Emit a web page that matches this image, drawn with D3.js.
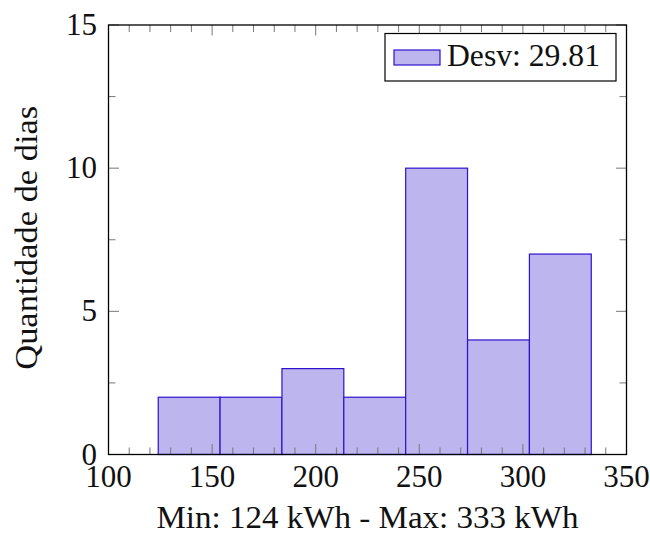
<!DOCTYPE html>
<html>
<head>
<meta charset="utf-8">
<script src="https://cdn.jsdelivr.net/npm/d3@7"></script>
<style>
  body { margin: 0; background: #fff; }
  svg text { font-family: "Liberation Serif", "DejaVu Serif", serif; fill: #111; }
</style>
</head>
<body>
<svg id="chart" width="650" height="534"></svg>
<script>
// histogram data (bins from min to max, 7 bins)
const dataMin = 124;
const dataMax = 333;
const binCounts = [2, 2, 3, 2, 10, 4, 7];
const xTicks = [100, 150, 200, 250, 300, 350];
const yTicks = [0, 5, 10, 15];
const legendLabel = "Desv: 29.81";
const xLabel = "Min: 124 kWh - Max: 333 kWh";
const yLabel = "Quantidade de dias";

const svg = d3.select("#chart");
const mLeft = 108.5, mRight = 626.5, mTop = 25, mBottom = 454.5;
const fontSize = 31;

const x = d3.scaleLinear().domain([100, 350]).range([mLeft, mRight]);
const y = d3.scaleLinear().domain([0, 15]).range([mBottom, mTop]);

const binW = (dataMax - dataMin) / binCounts.length;
const bins = binCounts.map((c, i) => ({
  x0: dataMin + i * binW,
  x1: dataMin + (i + 1) * binW,
  count: c
}));

const fillCol = "#bdb5ed";
const strokeCol = "#2e12cf";

// bars
svg.append("g")
  .selectAll("rect")
  .data(bins)
  .enter().append("rect")
  .attr("x", d => x(d.x0))
  .attr("y", d => y(d.count))
  .attr("width", d => x(d.x1) - x(d.x0))
  .attr("height", d => y(0) - y(d.count))
  .attr("fill", fillCol)
  .attr("stroke", strokeCol)
  .attr("stroke-width", 1.2);

// ticks (drawn inward on all four sides, like pgfplots)
const tickG = svg.append("g").attr("stroke", "#777").attr("stroke-width", 1);
const xMinor = d3.range(100, 351, 10).filter(v => v % 50 !== 0);
const yMinor = [2.5, 7.5, 12.5];
function xTick(v, len) {
  tickG.append("line").attr("x1", x(v)).attr("x2", x(v)).attr("y1", mBottom).attr("y2", mBottom - len);
  tickG.append("line").attr("x1", x(v)).attr("x2", x(v)).attr("y1", mTop).attr("y2", mTop + len);
}
function yTick(v, len) {
  tickG.append("line").attr("x1", mLeft).attr("x2", mLeft + len).attr("y1", y(v)).attr("y2", y(v));
  tickG.append("line").attr("x1", mRight).attr("x2", mRight - len).attr("y1", y(v)).attr("y2", y(v));
}
xTicks.forEach(v => xTick(v, 10.5));
xMinor.forEach(v => xTick(v, 7));
yTicks.forEach(v => yTick(v, 10.5));
yMinor.forEach(v => yTick(v, 7));

// axis frame
svg.append("rect")
  .attr("x", mLeft).attr("y", mTop)
  .attr("width", mRight - mLeft).attr("height", mBottom - mTop)
  .attr("fill", "none").attr("stroke", "#000").attr("stroke-width", 1.3);

// tick labels
svg.append("g").selectAll("text")
  .data(xTicks).enter().append("text")
  .attr("x", d => x(d))
  .attr("y", 487)
  .attr("text-anchor", "middle")
  .attr("font-size", fontSize)
  .text(d => d);

svg.append("g").selectAll("text")
  .data(yTicks).enter().append("text")
  .attr("x", 97)
  .attr("y", d => y(d) + 10)
  .attr("text-anchor", "end")
  .attr("font-size", fontSize)
  .text(d => d);

// axis labels (stretched a bit, the reference font is wider)
svg.append("text")
  .attr("x", (mLeft + mRight) / 2)
  .attr("y", 528)
  .attr("text-anchor", "middle")
  .attr("font-size", fontSize)
  .attr("textLength", 422)
  .attr("lengthAdjust", "spacingAndGlyphs")
  .text(xLabel);

svg.append("text")
  .attr("transform", `translate(37,${(mTop + mBottom) / 2 - 2}) rotate(-90)`)
  .attr("text-anchor", "middle")
  .attr("font-size", fontSize)
  .attr("textLength", 264)
  .attr("lengthAdjust", "spacingAndGlyphs")
  .text(yLabel);

// legend
const lg = svg.append("g");
lg.append("rect")
  .attr("x", 385).attr("y", 33.5).attr("width", 231).attr("height", 47.5)
  .attr("fill", "#fff").attr("stroke", "#000").attr("stroke-width", 1.2);
lg.append("rect")
  .attr("x", 394).attr("y", 50).attr("width", 46).attr("height", 15)
  .attr("fill", fillCol).attr("stroke", strokeCol).attr("stroke-width", 1.2);
lg.append("text")
  .attr("x", 447).attr("y", 66)
  .attr("font-size", fontSize)
  .attr("textLength", 153)
  .attr("lengthAdjust", "spacingAndGlyphs")
  .text(legendLabel);
</script>
</body>
</html>
